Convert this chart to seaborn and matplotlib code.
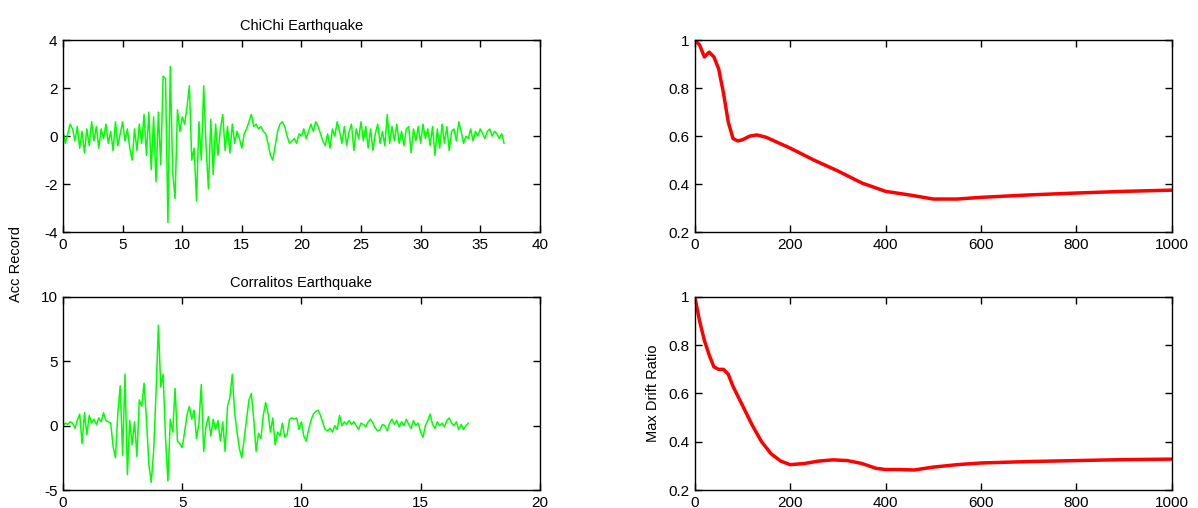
import numpy as np
import pandas as pd
import seaborn as sns
import matplotlib.pyplot as plt
from matplotlib.ticker import FormatStrFormatter

# ------------------- Acceleration records -------------------
chichi_dt = 0.2
chichi_acc = [
    0.2, -0.3, 0.1, 0.5, 0.3,
    -0.2, 0.4, -0.5, 0.2, -0.7,
    0.3, -0.4, 0.6, -0.2, 0.4,
    -0.5, 0.3, -0.1, 0.5, -0.3,
    0.2, -0.6, 0.6, -0.4, 0.1,
    0.6, -0.2, 0.3, -0.5, -1.0,
    0.3, -0.6, 0.5, -0.3, 0.9,
    -0.8, 1.0, -1.4, 0.8, -1.9,
    1.0, -1.2, 2.5, 2.4, -3.6,
    2.9, -1.5, -2.6, 1.1, 0.2,
    0.8, 0.5, 1.2, 2.1, -1.0,
    -0.5, -2.7, 0.6, -1.0, 2.1,
    -0.4, -2.2, 0.7, -1.6, 0.5,
    -0.8, 0.3, 0.9, -0.6, 0.4,
    -0.7, 0.5, -0.3, 0.2, -0.1,
    -0.5, 0.1, 0.3, 0.6, 0.9,
    0.4, 0.5, 0.3, 0.4, 0.2,
    0.1, -0.3, -0.8, -1.0, -0.4,
    0.2, 0.5, 0.6, 0.4, 0.0,
    -0.3, -0.2, -0.1, -0.3, 0.1,
    0.0, 0.3, -0.1, 0.2, 0.5,
    0.2, 0.6, 0.4, 0.1, -0.2,
    -0.4, 0.1, -0.5, 0.3, 0.0,
    0.6, 0.2, -0.3, 0.4, -0.4,
    0.2, 0.5, -0.6, 0.3, -0.1,
    0.6, -0.2, 0.4, -0.5, 0.3,
    -0.6, 0.1, 0.5, -0.3, 0.2,
    -0.4, 0.9, -0.3, 0.4, -0.2,
    0.5, -0.3, 0.2, -0.4, 0.3,
    0.4, -0.7, 0.3, -0.2, 0.4,
    -0.3, 0.5, -0.1, 0.3, -0.4,
    0.4, -0.8, 0.3, -0.5, 0.5,
    -0.3, 0.4, -0.6, 0.2, 0.3,
    -0.2, 0.6, 0.2, -0.3, 0.0,
    -0.1, 0.3, -0.2, 0.2, 0.0,
    0.3, 0.1, -0.1, 0.2, 0.3,
    0.0, 0.2, 0.1, -0.1, 0.1,
    -0.3,
]

corr_dt = 0.1
corr_acc = [
    0.0, 0.2, 0.1, 0.3, 0.2, -0.2, 0.4, 0.9, -1.4, 1.0,
    -0.7, 0.8, 0.2, 0.5, 0.1, 0.6, 0.3, 1.0, 0.4, 0.3,
    0.2, -1.6, -2.5, 1.0, 3.1, -2.3, 4.0, -3.8, 0.4, -1.5,
    0.3, -2.4, 2.0, 1.5, 3.3, 0.5, -3.0, -4.4, -2.0, 2.5,
    7.8, 3.0, 4.0, -1.0, -4.3, 0.5, -0.5, 2.9, -1.2, -1.4,
    -1.7, -0.5, 0.8, 1.5, 0.5, 1.2, -1.0, 0.2, 3.2, -2.0,
    0.0, 0.7, -0.8, 0.5, -0.3, 0.4, -1.2, 0.3, -2.0, 1.5,
    2.2, 4.0, 1.0, -0.5, -1.8, -2.5, -1.0, 0.5, 2.0, 2.5,
    0.5, -2.0, -0.6, -1.0, 0.8, 1.8, 1.0, -0.5, 0.6, -1.5,
    -0.5, -0.8, 0.2, -0.9, -0.7, 0.5, 0.6, 0.5, 0.6, -0.3,
    0.3, -0.8, -1.2, -0.3, 0.4, 0.9, 1.1, 1.2, 0.8, 0.2,
    -0.3, -0.4, -0.2, -0.5, 0.0, -0.3, 0.8, 0.0, 0.3, 0.1,
    0.4, 0.1, 0.3, 0.0, -0.3, 0.2, 0.1, -0.1, 0.3, 0.5,
    0.2, -0.2, -0.4, -0.3, 0.1, 0.0, -0.4, 0.2, 0.5, 0.1,
    0.4, -0.1, 0.3, 0.0, 0.5, 0.1, -0.2, 0.4, 0.0, 0.2,
    -0.5, -0.9, 0.0, 0.4, 0.9, 0.1, -0.2, 0.3, 0.0, 0.2,
    -0.1, 0.4, 0.6, 0.2, 0.0, 0.3, -0.3, 0.1, -0.3, 0.0,
    0.2,
]

# ------------------- Max drift ratio curves -------------------
drift1_x = [0, 10, 20, 30, 40, 50, 60, 70, 80, 90, 100, 115, 130, 150, 200,
            250, 300, 350, 400, 450, 500, 550, 600, 700, 800, 900, 1000]
drift1_y = [1.0, 0.98, 0.93, 0.95, 0.93, 0.88, 0.78, 0.66, 0.59, 0.58, 0.585, 0.60,
            0.605, 0.595, 0.55, 0.50, 0.455, 0.405, 0.37, 0.355, 0.338, 0.338,
            0.345, 0.355, 0.363, 0.37, 0.375]

drift2_x = [0, 10, 20, 30, 40, 50, 60, 70, 80, 90, 100, 120, 140, 160, 180, 200,
            230, 260, 290, 320, 350, 380, 400, 430, 460, 500, 550, 600, 700, 800,
            900, 1000]
drift2_y = [1.0, 0.90, 0.82, 0.76, 0.71, 0.70, 0.70, 0.68, 0.63, 0.59, 0.55, 0.47,
            0.40, 0.35, 0.32, 0.305, 0.31, 0.32, 0.325, 0.322, 0.31, 0.29, 0.285,
            0.285, 0.283, 0.295, 0.305, 0.312, 0.318, 0.322, 0.326, 0.328]

chichi = pd.DataFrame({"t": np.arange(len(chichi_acc)) * chichi_dt, "acc": chichi_acc})
corr = pd.DataFrame({"t": np.arange(len(corr_acc)) * corr_dt, "acc": corr_acc})
d1 = pd.DataFrame({"n": drift1_x, "ratio": drift1_y})
d2 = pd.DataFrame({"n": drift2_x, "ratio": drift2_y})

sns.set_style("ticks")
plt.rcParams['font.family'] = ['Liberation Sans', 'DejaVu Sans']
plt.rcParams['axes.unicode_minus'] = False
plt.rcParams['text.color'] = 'black'
plt.rcParams['xtick.color'] = 'black'
plt.rcParams['ytick.color'] = 'black'
plt.rcParams['axes.edgecolor'] = 'black'
plt.rcParams['axes.labelcolor'] = 'black'

fig = plt.figure(figsize=(11.98, 5.08), dpi=100)
ax1 = fig.add_axes([0.0526, 0.543, 0.398, 0.378])
ax2 = fig.add_axes([0.0526, 0.0354, 0.398, 0.380])
ax3 = fig.add_axes([0.580, 0.543, 0.398, 0.378])
ax4 = fig.add_axes([0.580, 0.0354, 0.398, 0.380])

sns.lineplot(data=chichi, x="t", y="acc", ax=ax1, color=(0, 1, 0), lw=1.1, errorbar=None)
sns.lineplot(data=corr, x="t", y="acc", ax=ax2, color=(0, 1, 0), lw=1.1, errorbar=None)
sns.lineplot(data=d1, x="n", y="ratio", ax=ax3, color="red", lw=2.5, errorbar=None)
sns.lineplot(data=d2, x="n", y="ratio", ax=ax4, color="red", lw=2.5, errorbar=None)

ax1.set_xlim(0, 40)
ax1.set_ylim(-4, 4)
ax1.set_xticks(range(0, 41, 5))
ax1.set_yticks([-4, -2, 0, 2, 4])
ax1.set_title("ChiChi Earthquake", fontsize=10.5, pad=7)

ax2.set_xlim(0, 20)
ax2.set_ylim(-5, 10)
ax2.set_xticks(range(0, 21, 5))
ax2.set_yticks([-5, 0, 5, 10])
ax2.set_title("Corralitos Earthquake", fontsize=10.5, pad=7)

for ax in (ax3, ax4):
    ax.set_xlim(0, 1000)
    ax.set_ylim(0.2, 1)
    ax.set_xticks(range(0, 1001, 200))
    ax.set_yticks([0.2, 0.4, 0.6, 0.8, 1.0])
    ax.yaxis.set_major_formatter(FormatStrFormatter('%g'))

for ax in (ax1, ax2, ax3, ax4):
    ax.set_xlabel("")
    ax.set_ylabel("")
    ax.tick_params(direction="in", top=True, right=True, length=5, width=1,
                   labelsize=11, pad=4)
    for s in ax.spines.values():
        s.set_linewidth(1)

ax4.set_ylabel("Max Drift Ratio", fontsize=10.5, labelpad=6)
fig.text(0.013, 0.48, "Acc Record", rotation=90, va="center", ha="center", fontsize=10.5)

fig.savefig("out.png", dpi=100)
